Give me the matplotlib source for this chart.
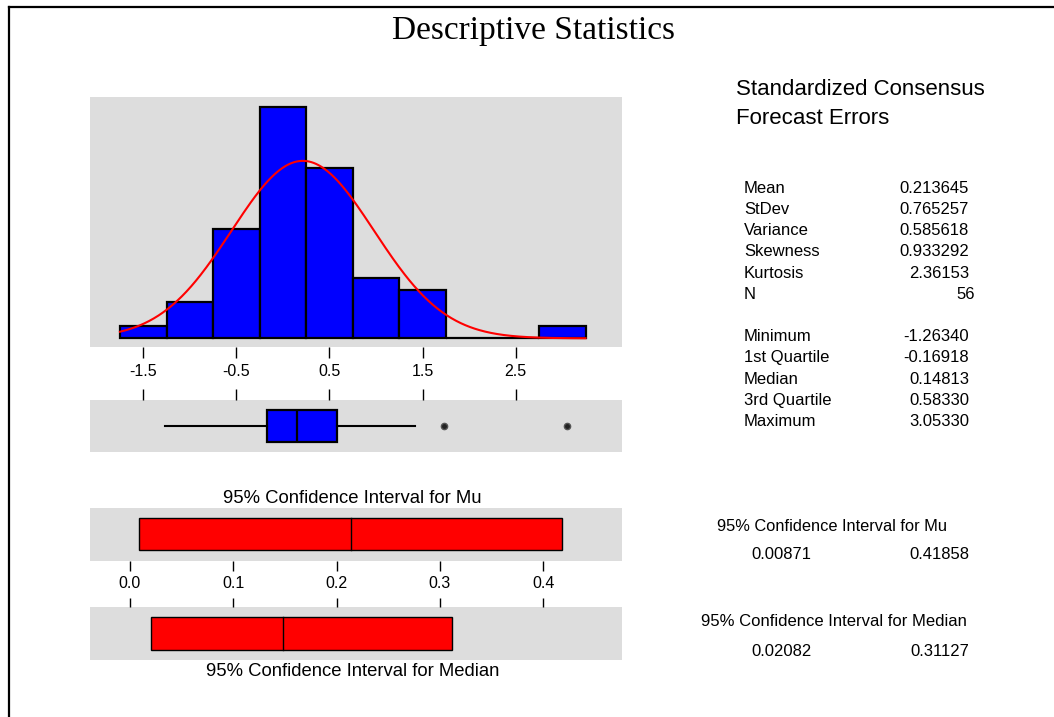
import numpy as np
import matplotlib.pyplot as plt
from matplotlib.lines import Line2D

plt.rcParams['font.family'] = ['Liberation Sans', 'DejaVu Sans']
plt.rcParams['axes.unicode_minus'] = False

W, H = 1054, 717

# histogram of the standardized forecast errors
bin_edges = [-1.75, -1.25, -0.75, -0.25, 0.25, 0.75, 1.25, 1.75, 2.25, 2.75, 3.25]
counts = [1, 3, 9, 19, 14, 5, 4, 0, 0, 1]
hist_ticks = [-1.5, -0.5, 0.5, 1.5, 2.5]
hist_ticklabels = ['-1.5', '-0.5', '0.5', '1.5', '2.5']

mean_val = 0.213645
sd_val = 0.765257
n_obs = 56

# boxplot summary
q_min, q1, q_med, q3, q_max = -1.26340, -0.16918, 0.14813, 0.58330, 3.05330
whisker_hi = 1.42
outliers = [1.73, 3.05330]

# confidence intervals
ci_mu = (0.00871, 0.41858)
ci_median = (0.02082, 0.31127)
ci_ticks = [0.0, 0.1, 0.2, 0.3, 0.4]
ci_ticklabels = ['0.0', '0.1', '0.2', '0.3', '0.4']

stat_names1 = ['Mean', 'StDev', 'Variance', 'Skewness', 'Kurtosis', 'N']
stat_vals1 = ['0.213645', '0.765257', '0.585618', '0.933292', '2.36153', '56']
stat_names2 = ['Minimum', '1st Quartile', 'Median', '3rd Quartile', 'Maximum']
stat_vals2 = ['-1.26340', '-0.16918', '0.14813', '0.58330', '3.05330']

GRAY = '#dddddd'


def rect(x0, y0, x1, y1):
    """pixel box (top-left origin) -> figure fraction rect"""
    return [x0 / W, 1 - y1 / H, (x1 - x0) / W, (y1 - y0) / H]


def ftext(x, y, s, **kw):
    fig.text(x / W, 1 - y / H, s, va='baseline', **kw)


def clean(ax):
    for sp in ax.spines.values():
        sp.set_visible(False)
    ax.set_yticks([])


fig = plt.figure(figsize=(W / 100, H / 100), dpi=100)

# frame of the page
fig.add_artist(Line2D([9 / W, 9 / W], [0, 1 - 7 / H], color='black', lw=1.6))
fig.add_artist(Line2D([9 / W, 1], [1 - 7 / H, 1 - 7 / H], color='black', lw=1.6))

ftext(534, 39.5, 'Descriptive Statistics', ha='center',
      family=['Liberation Serif', 'DejaVu Serif'], fontsize=24)

# histogram + fitted normal
ax = fig.add_axes(rect(90, 97, 622, 347), facecolor=GRAY)
ax.bar(bin_edges[:-1], counts, width=np.diff(bin_edges), align='edge',
       color='#0000ff', edgecolor='black', lw=1.6)
xs = np.linspace(bin_edges[0], bin_edges[-1], 400)
bw = bin_edges[1] - bin_edges[0]
pdf = n_obs * bw / (sd_val * np.sqrt(2 * np.pi)) * np.exp(-0.5 * ((xs - mean_val) / sd_val) ** 2)
ax.plot(xs, pdf, color='#ff0000', lw=1.5)
ax.set_xlim(-2.072, 3.642)
ax.set_ylim(-0.713, 19.85)
clean(ax)
ax.set_xticks(hist_ticks)
ax.set_xticklabels(hist_ticklabels)
ax.tick_params(axis='x', direction='out', length=8, width=1, pad=4, labelsize=11.5)

# boxplot
axb = fig.add_axes(rect(90, 400, 622, 452), facecolor=GRAY)
stats = [dict(med=q_med, q1=q1, q3=q3, whislo=q_min, whishi=whisker_hi, fliers=outliers)]
axb.bxp(stats, positions=[0.5], widths=0.62, orientation='horizontal',
        patch_artist=True, showcaps=False, manage_ticks=False,
        boxprops=dict(facecolor='#0000ff', edgecolor='black', lw=1.6),
        medianprops=dict(color='black', lw=1.6),
        whiskerprops=dict(color='black', lw=1.5),
        flierprops=dict(marker='o', markersize=4.5, markerfacecolor='#222222',
                        markeredgecolor='#555555'))
axb.set_xlim(-2.072, 3.642)
axb.set_ylim(0, 1)
clean(axb)
axb.xaxis.tick_top()
axb.set_xticks(hist_ticks)
axb.tick_params(axis='x', direction='out', length=8, width=1, labeltop=False)

# confidence interval for mu
ci_xlim = (-0.0387, 0.4763)
axm = fig.add_axes(rect(90, 508, 622, 561), facecolor=GRAY)
axm.barh(0.51, ci_mu[1] - ci_mu[0], left=ci_mu[0], height=0.6,
         color='#ff0000', edgecolor='black', lw=1)
axm.plot([mean_val, mean_val], [0.21, 0.81], color='black', lw=1)
axm.set_xlim(*ci_xlim)
axm.set_ylim(0, 1)
clean(axm)
axm.set_xticks(ci_ticks)
axm.set_xticklabels(ci_ticklabels)
axm.tick_params(axis='x', direction='out', length=7, width=1, pad=4, labelsize=11.5)

# confidence interval for median
axd = fig.add_axes(rect(90, 607, 622, 660), facecolor=GRAY)
axd.barh(0.5, ci_median[1] - ci_median[0], left=ci_median[0], height=0.63,
         color='#ff0000', edgecolor='black', lw=1)
axd.plot([q_med, q_med], [0.185, 0.815], color='black', lw=1)
axd.set_xlim(*ci_xlim)
axd.set_ylim(0, 1)
clean(axd)
axd.xaxis.tick_top()
axd.set_xticks(ci_ticks)
axd.tick_params(axis='x', direction='out', length=6.5, width=1, labeltop=False)

ftext(352.5, 503.3, '95% Confidence Interval for Mu', ha='center', fontsize=13.3)
ftext(352.5, 676, '95% Confidence Interval for Median', ha='center', fontsize=13.3)

# right-hand summary text
ftext(736, 95, 'Standardized Consensus', fontsize=16)
ftext(736, 124, 'Forecast Errors', fontsize=16)

for i, (nm, v) in enumerate(zip(stat_names1, stat_vals1)):
    y = 192.7 + i * 21.25
    ftext(744, y, nm, fontsize=12)
    ftext(975 if nm == 'N' else 969, y, v, ha='right', fontsize=12)

for i, (nm, v) in enumerate(zip(stat_names2, stat_vals2)):
    y = 341 + i * 21.25
    ftext(744, y, nm, fontsize=12)
    ftext(969, y, v, ha='right', fontsize=12)

ftext(832, 530.7, '95% Confidence Interval for Mu', ha='center', fontsize=11.8)
ftext(781.5, 559, f'{ci_mu[0]:.5f}', ha='center', fontsize=12)
ftext(939.5, 559, f'{ci_mu[1]:.5f}', ha='center', fontsize=12)
ftext(834, 626.5, '95% Confidence Interval for Median', ha='center', fontsize=12)
ftext(781.5, 656, f'{ci_median[0]:.5f}', ha='center', fontsize=12)
ftext(939.5, 656, f'{ci_median[1]:.5f}', ha='center', fontsize=12)

fig.savefig('out.png', dpi=100)
